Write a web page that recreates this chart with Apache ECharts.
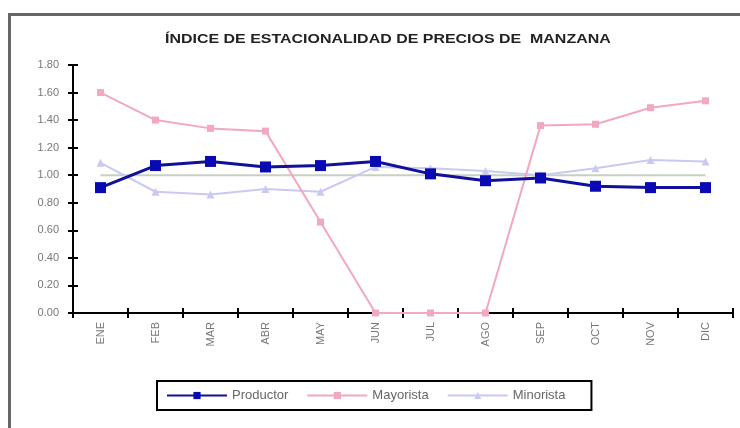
<!DOCTYPE html>
<html>
<head>
<meta charset="utf-8">
<script src="https://cdn.jsdelivr.net/npm/echarts@6/dist/echarts.min.js"></script>
<style>html,body{margin:0;padding:0;background:#fff}#c{width:740px;height:428px}</style>
</head>
<body>
<div id="c"></div>
<script>
const categories = ['ENE','FEB','MAR','ABR','MAY','JUN','JUL','AGO','SEP','OCT','NOV','DIC'];
const productor = [0.91, 1.07, 1.10, 1.06, 1.07, 1.10, 1.01, 0.96, 0.98, 0.92, 0.91, 0.91];
const mayorista = [1.60, 1.40, 1.34, 1.32, 0.66, 0.00, 0.00, 0.00, 1.36, 1.37, 1.49, 1.54];
const minorista = [1.09, 0.88, 0.86, 0.90, 0.88, 1.06, 1.05, 1.03, 1.00, 1.05, 1.11, 1.10];
const base = [1, 1, 1, 1, 1, 1, 1, 1, 1, 1, 1, 1];
const titleText = 'ÍNDICE DE ESTACIONALIDAD DE PRECIOS DE  MANZANA';

const chart = echarts.init(document.getElementById('c'));
const font = 'Liberation Sans, Arial, sans-serif';
const axisCommon = {
  axisLine: {show: true, lineStyle: {color: '#000', width: 2}},
  splitLine: {show: false}
};
chart.setOption({
  animation: false,
  backgroundColor: '#fff',
  graphic: [{
    type: 'rect', silent: true,
    shape: {x: 9.5, y: 14.5, width: 780, height: 450},
    style: {fill: 'none', stroke: '#666', lineWidth: 3}
  }, {
    type: 'text', silent: true,
    x: 165, y: 34, scaleX: 1.33,
    style: {text: titleText, font: 'bold 12px ' + font, fill: '#222'}
  }],
  legend: {
    data: ['Productor', 'Mayorista', 'Minorista'],
    left: 157, top: 381,
    padding: [8, 26, 8, 9],
    itemWidth: 60, itemHeight: 9, itemGap: 18,
    borderColor: '#000', borderWidth: 2,
    textStyle: {fontFamily: font, fontSize: 13, color: '#666'}
  },
  grid: {left: 73, right: 7, top: 65, bottom: 115},
  xAxis: [
    Object.assign({}, axisCommon, {
      type: 'category', data: categories, boundaryGap: true,
      axisTick: {show: true, inside: false, length: 5, lineStyle: {color: '#000', width: 2}},
      axisLabel: {rotate: 90, fontFamily: font, fontSize: 11, color: '#777', margin: 9}
    }),
    Object.assign({}, axisCommon, {
      type: 'category', data: categories, boundaryGap: true, position: 'bottom',
      axisTick: {show: true, inside: true, length: 5, lineStyle: {color: '#000', width: 2}},
      axisLabel: {show: false}
    })
  ],
  yAxis: [
    Object.assign({}, axisCommon, {
      type: 'value', min: 0, max: 1.8, interval: 0.2,
      axisTick: {show: true, inside: false, length: 5, lineStyle: {color: '#000', width: 2}},
      axisLabel: {fontFamily: font, fontSize: 11, color: '#777', margin: 14,
        formatter: v => v.toFixed(2)}
    }),
    Object.assign({}, axisCommon, {
      type: 'value', min: 0, max: 1.8, interval: 0.2, position: 'left',
      axisTick: {show: true, inside: true, length: 5, lineStyle: {color: '#000', width: 2}},
      axisLabel: {show: false}
    })
  ],
  series: [
    {
      name: 'base', type: 'line', data: base, symbol: 'none', z: 1,
      lineStyle: {color: '#c9d0c2', width: 2}
    },
    {
      name: 'Minorista', type: 'line', data: minorista, z: 2,
      symbol: 'triangle', symbolSize: 8,
      itemStyle: {color: '#c9c9f2'},
      lineStyle: {color: '#c9c9f2', width: 2}
    },
    {
      name: 'Mayorista', type: 'line', data: mayorista, z: 3,
      symbol: 'rect', symbolSize: 7,
      itemStyle: {color: '#f2a8c0'},
      lineStyle: {color: '#f2a8c0', width: 2}
    },
    {
      name: 'Productor', type: 'line', data: productor, z: 4,
      symbol: 'rect', symbolSize: 11,
      itemStyle: {color: '#0a0ab4'},
      lineStyle: {color: '#10109a', width: 3}
    }
  ]
});
</script>
</body>
</html>
